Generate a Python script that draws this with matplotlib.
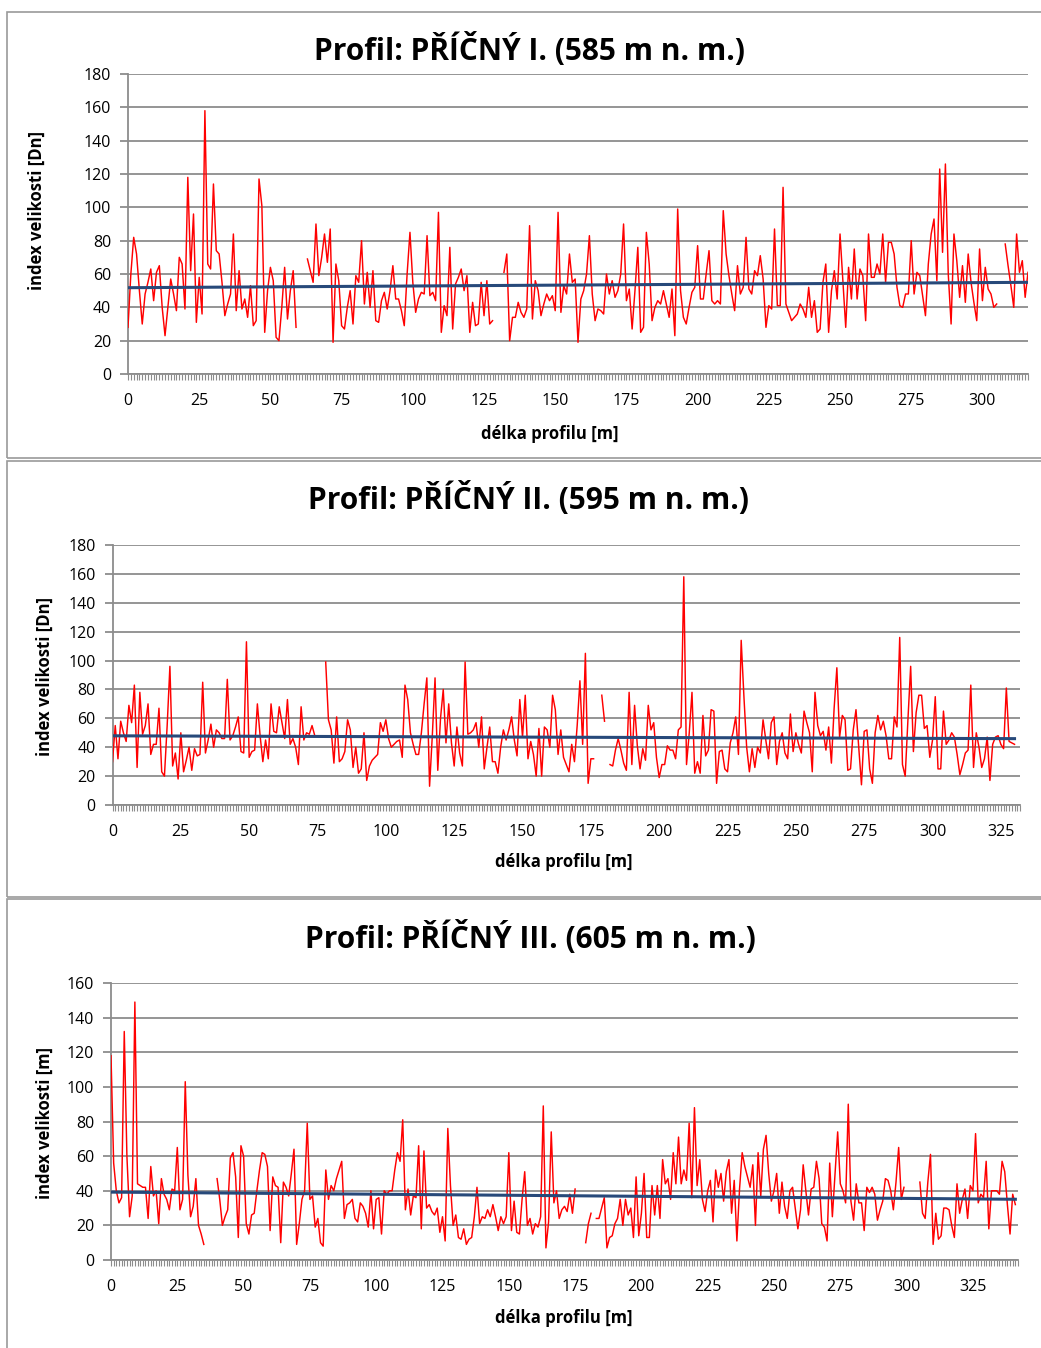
import numpy as np
import matplotlib
matplotlib.use("Agg")
import matplotlib.pyplot as plt
from matplotlib.patches import Rectangle

plt.rcParams['font.family'] = ['Open Sans', 'DejaVu Sans']

W, H = 1041, 1348

# index velikosti po metrech, None = chybi mereni
profil_1 = [
    28, 60, 82, 72, 50, 30, 48, 55, 63, 44,
    61, 65, 40, 23, 40, 57, 48, 38, 70, 66,
    39, 118, 62, 96, 31, 58, 36, 158, 66, 63,
    114, 74, 72, 55, 35, 42, 48, 84, 38, 62,
    39, 45, 34, 53, 29, 32, 117, 101, 25, 50,
    64, 56, 22, 20, 40, 64, 33, 50, 62, 28,
    None, None, None, 69, 62, 55, 90, 59, 70, 84,
    67, 87, 19, 66, 56, 29, 27, 40, 50, 30,
    59, 55, 80, 42, 61, 40, 62, 32, 31, 44,
    49, 39, 50, 65, 45, 45, 38, 29, 60, 85,
    55, 37, 45, 49, 48, 83, 47, 49, 44, 97,
    25, 41, 35, 76, 27, 54, 58, 63, 50, 59,
    25, 43, 29, 30, 55, 35, 56, 30, 32, None,
    None, None, 61, 72, 20, 34, 34, 43, 37, 34,
    39, 89, 33, 56, 50, 35, 42, 48, 44, 47,
    38, 97, 37, 53, 48, 72, 55, 57, 19, 45,
    50, 60, 83, 48, 32, 39, 38, 36, 60, 48,
    56, 46, 50, 60, 90, 44, 51, 27, 50, 76,
    25, 28, 85, 66, 32, 40, 44, 42, 50, 42,
    34, 51, 23, 99, 50, 34, 30, 40, 49, 52,
    77, 45, 45, 60, 74, 44, 42, 44, 42, 98,
    72, 59, 48, 38, 65, 48, 52, 82, 51, 48,
    62, 59, 71, 57, 28, 41, 39, 87, 41, 41,
    112, 42, 37, 32, 34, 36, 42, 39, 34, 52,
    34, 44, 25, 27, 55, 66, 25, 50, 62, 45,
    84, 56, 28, 64, 45, 75, 45, 63, 59, 32,
    84, 58, 58, 66, 60, 84, 55, 79, 79, 72,
    52, 41, 40, 48, 48, 80, 48, 61, 59, 47,
    35, 66, 84, 93, 56, 123, 73, 126, 60, 30,
    84, 68, 46, 65, 43, 72, 55, 43, 32, 75,
    44, 64, 51, 48, 40, 42, None, None, 78, 65,
    53, 40, 84, 61, 68, 46, 61,
]

profil_2 = [
    30, 55, 32, 58, 50, 44, 69, 57, 83, 26,
    78, 49, 55, 70, 35, 42, 42, 67, 23, 20,
    55, 96, 27, 36, 18, 50, 23, 31, 40, 24,
    39, 34, 35, 85, 36, 45, 56, 40, 52, 50,
    46, 46, 87, 45, 48, 54, 61, 37, 36, 113,
    33, 37, 38, 70, 48, 30, 45, 32, 70, 51,
    50, 68, 57, 46, 73, 42, 46, 40, 28, 68,
    45, 50, 49, 55, 48, None, None, None, 99, 59,
    52, 29, 61, 30, 32, 37, 59, 52, 26, 40,
    22, 25, 50, 17, 27, 31, 33, 35, 57, 51,
    59, 46, 40, 42, 44, 45, 33, 83, 73, 50,
    42, 35, 35, 50, 70, 88, 13, 48, 88, 24,
    60, 80, 43, 70, 43, 27, 54, 36, 27, 99,
    49, 50, 52, 57, 40, 61, 25, 40, 54, 30,
    30, 22, 40, 52, 45, 52, 61, 45, 34, 73,
    47, 76, 32, 44, 35, 20, 53, 20, 54, 52,
    40, 76, 66, 35, 52, 33, 28, 23, 42, 30,
    55, 86, 42, 105, 15, 32, 32, None, None, 76,
    58, None, 28, 27, 38, 46, 38, 29, 24, 78,
    28, 69, 41, 25, 39, 31, 69, 52, 57, 33,
    19, 28, 28, 41, 38, 38, 32, 52, 54, 158,
    28, 50, 78, 22, 30, 22, 62, 34, 38, 66,
    65, 15, 37, 38, 25, 23, 43, 50, 61, 35,
    114, 75, 40, 23, 39, 26, 40, 36, 59, 45,
    32, 57, 61, 28, 44, 50, 36, 32, 63, 37,
    50, 42, 36, 65, 57, 50, 23, 78, 55, 48,
    51, 38, 54, 29, 67, 95, 47, 62, 59, 24,
    25, 52, 66, 40, 14, 51, 52, 25, 15, 50,
    62, 52, 58, 48, 32, 32, 61, 54, 116, 28,
    20, 59, 96, 37, 64, 76, 76, 53, 55, 33,
    45, 75, 25, 25, 65, 42, 45, 50, 47, 35,
    21, 28, 36, 38, 83, 26, 50, 40, 26, 32,
    47, 17, 42, 47, 48, 42, 39, 81, 44, 43,
    42, None, None,
]

profil_3 = [
    118, 56, 40, 33, 36, 132, 60, 25, 37, 149,
    44, 43, 42, 42, 24, 54, 37, 40, 21, 47,
    38, 35, 29, 41, 40, 65, 29, 35, 103, 49,
    25, 31, 47, 20, 15, 9, None, None, None, None,
    47, 35, 20, 25, 29, 59, 62, 48, 13, 66,
    60, 21, 15, 26, 27, 40, 52, 62, 61, 54,
    17, 48, 43, 42, 10, 45, 42, 37, 50, 64,
    9, 21, 35, 40, 79, 35, 37, 19, 24, 10,
    8, 52, 35, 43, 40, 47, 52, 57, 24, 32,
    33, 35, 24, 22, 33, 31, 27, 19, 40, 18,
    35, 36, 15, 40, 38, 40, 40, 52, 62, 57,
    81, 29, 41, 26, 37, 36, 66, 18, 63, 30,
    32, 28, 26, 30, 16, 25, 11, 76, 43, 20,
    26, 13, 12, 18, 9, 12, 13, 25, 42, 21,
    25, 24, 29, 25, 32, 25, 17, 25, 21, 25,
    62, 17, 34, 16, 15, 35, 51, 20, 24, 15,
    21, 19, 25, 89, 7, 22, 74, 33, 40, 24,
    29, 31, 28, 38, 27, 41, None, None, None, 10,
    21, 27, None, 24, 24, 30, 36, 7, 13, 14,
    21, 24, 35, 20, 35, 26, 30, 13, 48, 14,
    27, 50, 13, 13, 43, 26, 43, 24, 58, 44,
    47, 35, 62, 44, 71, 44, 52, 46, 79, 36,
    88, 43, 58, 35, 28, 40, 46, 22, 52, 42,
    50, 34, 51, 58, 27, 46, 11, 41, 62, 54,
    48, 42, 55, 20, 62, 37, 64, 72, 50, 34,
    40, 50, 27, 45, 31, 24, 40, 42, 30, 18,
    29, 55, 40, 26, 41, 42, 57, 47, 21, 19,
    11, 56, 25, 50, 74, 44, 40, 33, 90, 34,
    23, 44, 33, 33, 17, 42, 39, 42, 38, 23,
    29, 34, 47, 46, 40, 29, 45, 65, 35, 42,
    None, None, None, None, None, 45, 27, 24, 45, 61,
    9, 27, 12, 14, 30, 30, 29, 20, 13, 44,
    27, 35, 41, 24, 43, 40, 73, 33, 38, 36,
    57, 18, 40, 40, 40, 38, 57, 51, 32, 15,
    38, 32, None,
]

nazvy = ["Profil: PŘÍČNÝ I. (585 m n. m.)",
         "Profil: PŘÍČNÝ II. (595 m n. m.)",
         "Profil: PŘÍČNÝ III. (605 m n. m.)"]
osa_y = ["index velikosti [Dn]", "index velikosti [Dn]", "index velikosti [m]"]
osa_x = "délka profilu [m]"
y_max = [180, 180, 160]

GRID = '#8c8c8c'


def fx(px):
    return px / W


def fy(py):
    return 1 - py / H


def graf(fig, rect, data, ymax, nazev, ylab, title_xy, ylab_xy, xlab_xy):
    left, top, right, bottom = rect
    ax = fig.add_axes([fx(left), fy(bottom), fx(right - left), (bottom - top) / H])
    x = np.arange(len(data))
    y = np.array(data, dtype=float)
    ok = ~np.isnan(y)

    ax.plot(x, y, color='#ff0000', lw=1.05, zorder=3)
    # linearni trend (jako v Excelu)
    k, q = np.polyfit(x[ok], y[ok], 1)
    xt = np.array([x[ok][0], x[ok][-1]])
    ax.plot(xt, k * xt + q, color='#27497a', lw=2.2, zorder=4)

    ax.set_xlim(0, len(data) - 1)
    ax.set_ylim(0, ymax)
    ax.set_yticks(np.arange(0, ymax + 1, 20))
    ax.set_xticks(np.arange(0, len(data), 25))
    ax.set_xticks(x, minor=True)
    ax.yaxis.grid(True, color=GRID, lw=1.3)
    ax.set_axisbelow(True)
    for s in ['top', 'right']:
        ax.spines[s].set_visible(False)
    for s in ['left', 'bottom']:
        ax.spines[s].set_color(GRID)
        ax.spines[s].set_linewidth(1.3)
    ax.tick_params(axis='x', which='both', length=4.5, width=0.8, color=GRID,
                   pad=9, labelsize=11.5)
    ax.tick_params(axis='y', length=6, width=1.3, color=GRID, pad=6, labelsize=11.5)

    fig.text(fx(title_xy[0]), fy(title_xy[1]), nazev, ha='center', va='center',
             fontsize=21.5, fontweight='bold')
    fig.text(fx(ylab_xy[0]), fy(ylab_xy[1]), ylab, ha='center', va='center',
             rotation=90, fontsize=12, fontweight='bold')
    fig.text(fx(xlab_xy[0]), fy(xlab_xy[1]), osa_x, ha='center', va='center',
             fontsize=12, fontweight='bold')
    return ax


fig = plt.figure(figsize=(W / 100, H / 100), dpi=100)

# ramecky jednotlivych grafu
for top, bottom in [(12, 458), (461, 897), (899, 1352)]:
    fig.patches.append(Rectangle((fx(7), fy(bottom)), fx(1050 - 7), (bottom - top) / H,
                                 transform=fig.transFigure, fill=False,
                                 edgecolor='#9a9a9a', lw=1.2))

graf(fig, (128, 74, 1028, 374), profil_1, y_max[0], nazvy[0], osa_y[0],
     (530, 50), (37, 211), (550, 434))
graf(fig, (112.5, 545, 1020, 805), profil_2, y_max[1], nazvy[1], osa_y[1],
     (529, 499), (45, 676), (564, 862))
graf(fig, (111, 983, 1018, 1260), profil_3, y_max[2], nazvy[2], osa_y[2],
     (530, 938), (45, 1123), (564, 1318))

fig.savefig('out.png', dpi=100)
